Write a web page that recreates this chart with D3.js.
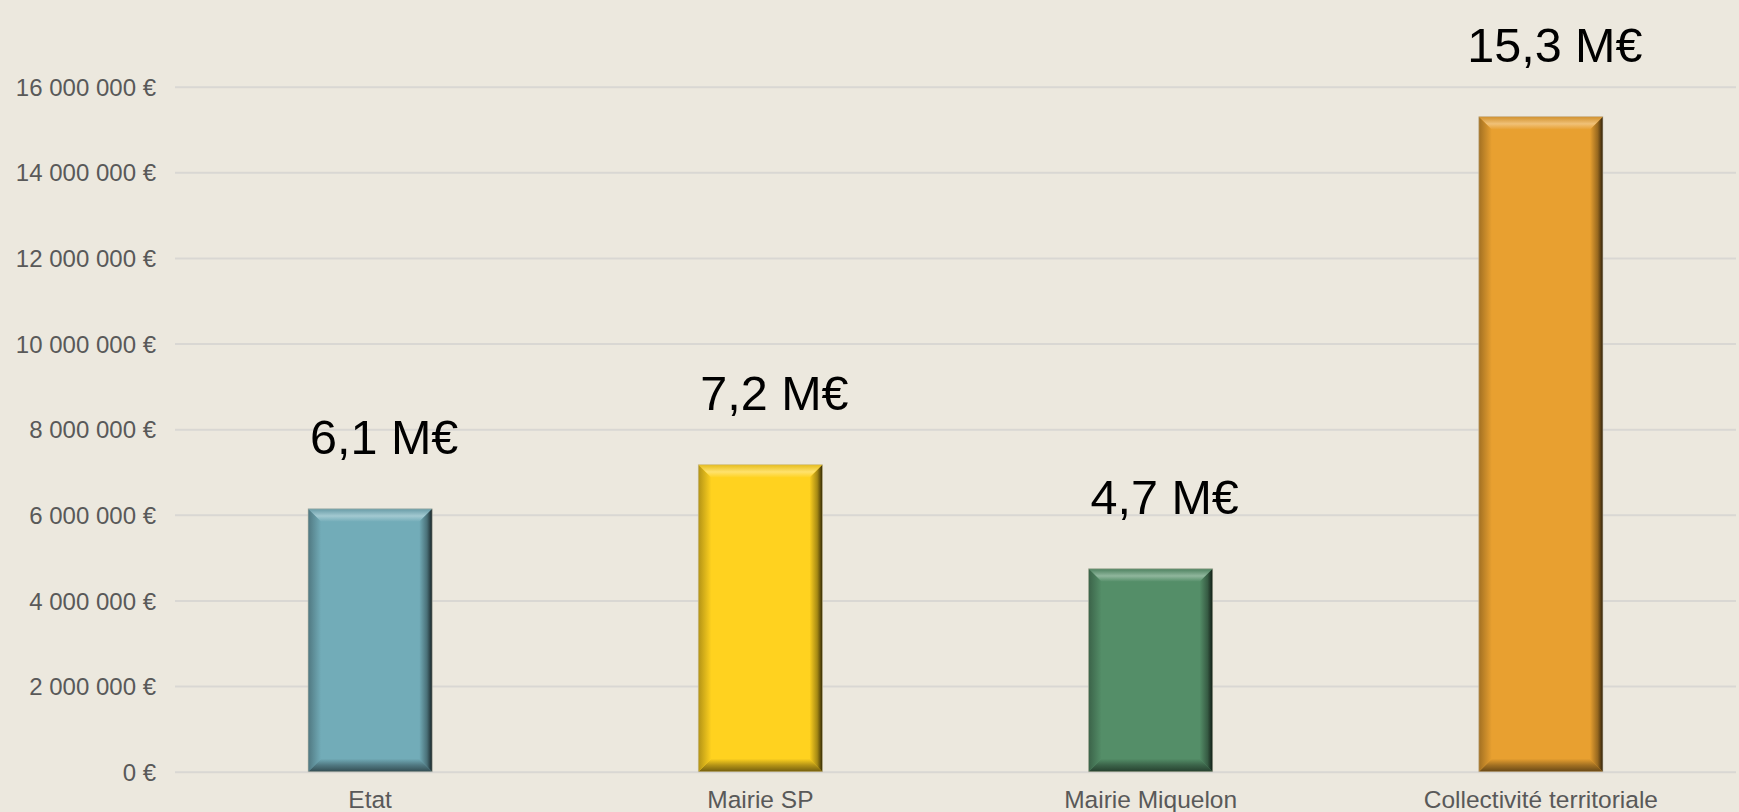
<!DOCTYPE html>
<html><head><meta charset="utf-8">
<script src="https://cdn.jsdelivr.net/npm/d3@7"></script>
<style>
html,body{margin:0;padding:0;background:#ECE8DE;}
svg{display:block;}
text{font-family:"Liberation Sans",Arial,sans-serif;}
</style></head>
<body>
<svg id="c" width="1739" height="812"></svg>
<script>
const categories = ["Etat", "Mairie SP", "Mairie Miquelon", "Collectivité territoriale"];
const values = [6140000, 7170000, 4740000, 15300000];
const valueLabels = ["6,1 M€", "7,2 M€", "4,7 M€", "15,3 M€"];
const barColors = ["#72ACB8", "#FFD21F", "#548E68", "#E8A030"];
const tickValues = [0, 2000000, 4000000, 6000000, 8000000, 10000000, 12000000, 14000000, 16000000];

(function(){
const W = 1739, H = 812;
const pLeft = 175, pRight = 1736, pTop = 86.7, pBottom = 771.7;
const svg = d3.select("#c");
svg.append("rect").attr("width", W).attr("height", H).attr("fill", "#ECE8DE");

const x = d3.scaleBand().domain(categories).range([pLeft, pRight]).paddingInner(0.682).paddingOuter(0.341);
const y = d3.scaleLinear().domain([0, 16000000]).range([pBottom, pTop]);

const fmt = v => d3.format(",")(v).replace(/,/g, " ") + " €";

const yAxis = d3.axisLeft(y).tickValues(tickValues).tickSize(-(pRight - pLeft)).tickFormat(fmt).tickPadding(19);
const gy = svg.append("g").attr("transform", `translate(${pLeft},0)`).call(yAxis);
gy.select(".domain").remove();
gy.selectAll(".tick line").attr("stroke", "#D9D7D3").attr("stroke-width", 2);
gy.selectAll(".tick text").attr("fill", "#595959").attr("font-size", 24).attr("dy", "0.36em")
  .attr("font-family", "'Liberation Sans', Arial, sans-serif");

const xAxis = d3.axisBottom(x).tickSize(0).tickPadding(19);
const gx = svg.append("g").attr("transform", `translate(0,${pBottom})`).call(xAxis);
gx.select(".domain").remove();
gx.selectAll(".tick text").attr("fill", "#595959").attr("font-size", 24.5)
  .attr("font-family", "'Liberation Sans', Arial, sans-serif");

const defs = svg.append("defs");
const data = categories.map((c, i) => ({c, v: values[i], col: barColors[i], lab: valueLabels[i], i}));
const mix = (a, b, t) => d3.interpolateRgb(a, b)(t);
data.forEach(d => {
  const g1 = defs.append("linearGradient").attr("id", "gt" + d.i).attr("x1", 0).attr("y1", 0).attr("x2", 0).attr("y2", 1);
  g1.append("stop").attr("offset", 0).attr("stop-color", mix(d.col, "#000", 0.1));
  g1.append("stop").attr("offset", 0.55).attr("stop-color", mix(d.col, "#fff", 0.35));
  g1.append("stop").attr("offset", 1).attr("stop-color", d.col);
  const g2 = defs.append("linearGradient").attr("id", "gr" + d.i).attr("x1", 0).attr("y1", 0).attr("x2", 1).attr("y2", 0);
  g2.append("stop").attr("offset", 0).attr("stop-color", d.col);
  g2.append("stop").attr("offset", 0.6).attr("stop-color", mix(d.col, "#000", 0.35));
  g2.append("stop").attr("offset", 1).attr("stop-color", mix(d.col, "#000", 0.8));
  const g3 = defs.append("linearGradient").attr("id", "gb" + d.i).attr("x1", 0).attr("y1", 0).attr("x2", 0).attr("y2", 1);
  g3.append("stop").attr("offset", 0).attr("stop-color", d.col);
  g3.append("stop").attr("offset", 0.5).attr("stop-color", mix(d.col, "#000", 0.3));
  g3.append("stop").attr("offset", 1).attr("stop-color", mix(d.col, "#000", 0.55));
  const g4 = defs.append("linearGradient").attr("id", "gl" + d.i).attr("x1", 1).attr("y1", 0).attr("x2", 0).attr("y2", 0);
  g4.append("stop").attr("offset", 0).attr("stop-color", d.col);
  g4.append("stop").attr("offset", 1).attr("stop-color", mix(d.col, "#000", 0.3));
});

const b = 13;
const bars = svg.append("g").selectAll("g").data(data).join("g");
bars.each(function(d) {
  const g = d3.select(this);
  const x0 = x(d.c), x1 = x0 + x.bandwidth(), y0 = y(d.v), y1 = y(0);
  g.append("rect").attr("x", x0).attr("y", y0).attr("width", x1 - x0).attr("height", y1 - y0).attr("fill", d.col);
  const poly = pts => pts.map(p => p.join(",")).join(" ");
  g.append("polygon").attr("points", poly([[x0, y0], [x1, y0], [x1 - b, y0 + b], [x0 + b, y0 + b]])).attr("fill", `url(#gt${d.i})`);
  g.append("polygon").attr("points", poly([[x0, y1], [x1, y1], [x1 - b, y1 - b], [x0 + b, y1 - b]])).attr("fill", `url(#gb${d.i})`);
  g.append("polygon").attr("points", poly([[x0, y0], [x0 + b, y0 + b], [x0 + b, y1 - b], [x0, y1]])).attr("fill", `url(#gl${d.i})`);
  g.append("polygon").attr("points", poly([[x1, y0], [x1 - b, y0 + b], [x1 - b, y1 - b], [x1, y1]])).attr("fill", `url(#gr${d.i})`);
  g.append("rect").attr("x", x0).attr("y", y0).attr("width", x1 - x0).attr("height", y1 - y0)
    .attr("fill", "none").attr("stroke", "#BFB9AA").attr("stroke-width", 0.8).attr("stroke-opacity", 0.7);
});

svg.append("g").selectAll("text").data(data).join("text")
  .attr("x", d => x(d.c) + x.bandwidth() / 2 + 14)
  .attr("y", d => y(d.v) - 55)
  .attr("text-anchor", "middle")
  .attr("font-size", 48.5)
  .attr("fill", "#000")
  .text(d => d.lab);
})();
</script>
</body></html>
